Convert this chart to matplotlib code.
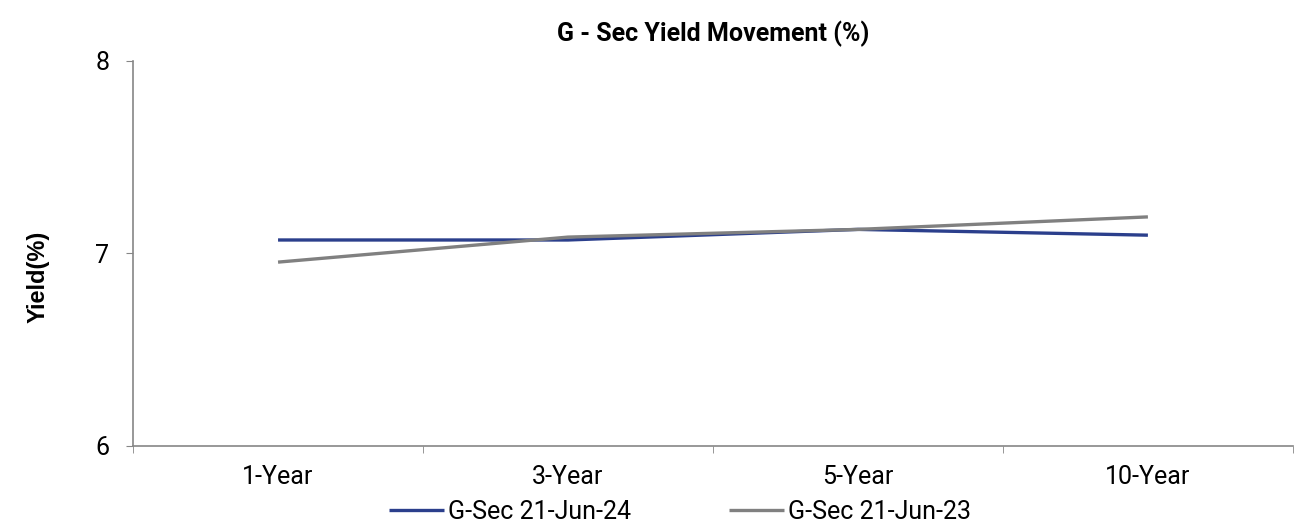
import matplotlib.pyplot as plt
from matplotlib.ticker import FixedLocator

# Tenors and yields
tenors = ['1-Year', '3-Year', '5-Year', '10-Year']
yield_jun24 = [7.07, 7.07, 7.125, 7.095]
yield_jun23 = [6.955, 7.085, 7.125, 7.19]

plt.rcParams['font.family'] = ['Roboto', 'DejaVu Sans']

fig = plt.figure(figsize=(13.02, 5.24), dpi=100)
ax = fig.add_axes([0.1022, 0.149, 0.8908, 0.7346])

x = [i + 0.5 for i in range(len(tenors))]
ax.plot(x, yield_jun24, color='#2B3F8C', lw=2.4, label='G-Sec 21-Jun-24', solid_capstyle='butt')
ax.plot(x, yield_jun23, color='#808080', lw=2.4, label='G-Sec 21-Jun-23', solid_capstyle='butt')

ax.set_xlim(0, len(tenors))
ax.set_ylim(6, 8)
ax.set_yticks([6, 7, 8])
ax.set_xticks(x)
ax.set_xticklabels(tenors)
ax.xaxis.set_minor_locator(FixedLocator(range(len(tenors) + 1)))
ax.tick_params(axis='x', which='major', length=0, pad=14, labelsize=18)
ax.tick_params(axis='x', which='minor', length=5, color='#868686', direction='out')
ax.tick_params(axis='y', length=5, color='#868686', labelsize=18, pad=12)

for s in ['top', 'right']:
    ax.spines[s].set_visible(False)
for s in ['left', 'bottom']:
    ax.spines[s].set_color('#868686')
    ax.spines[s].set_linewidth(1.2)

ax.set_ylabel('Yield(%)', fontsize=17, fontweight='bold', family=['Liberation Sans'])
ax.yaxis.set_label_coords(-0.072, 0.44)
ax.set_title('G - Sec Yield Movement (%)', fontsize=18, fontweight='bold', pad=14)

fig.legend(loc='center', bbox_to_anchor=(680 / 1302, 12 / 524), ncol=2, frameon=False,
           fontsize=18, handlelength=2.2, handletextpad=0.15, columnspacing=3.9)

fig.savefig('out.png', dpi=100)
